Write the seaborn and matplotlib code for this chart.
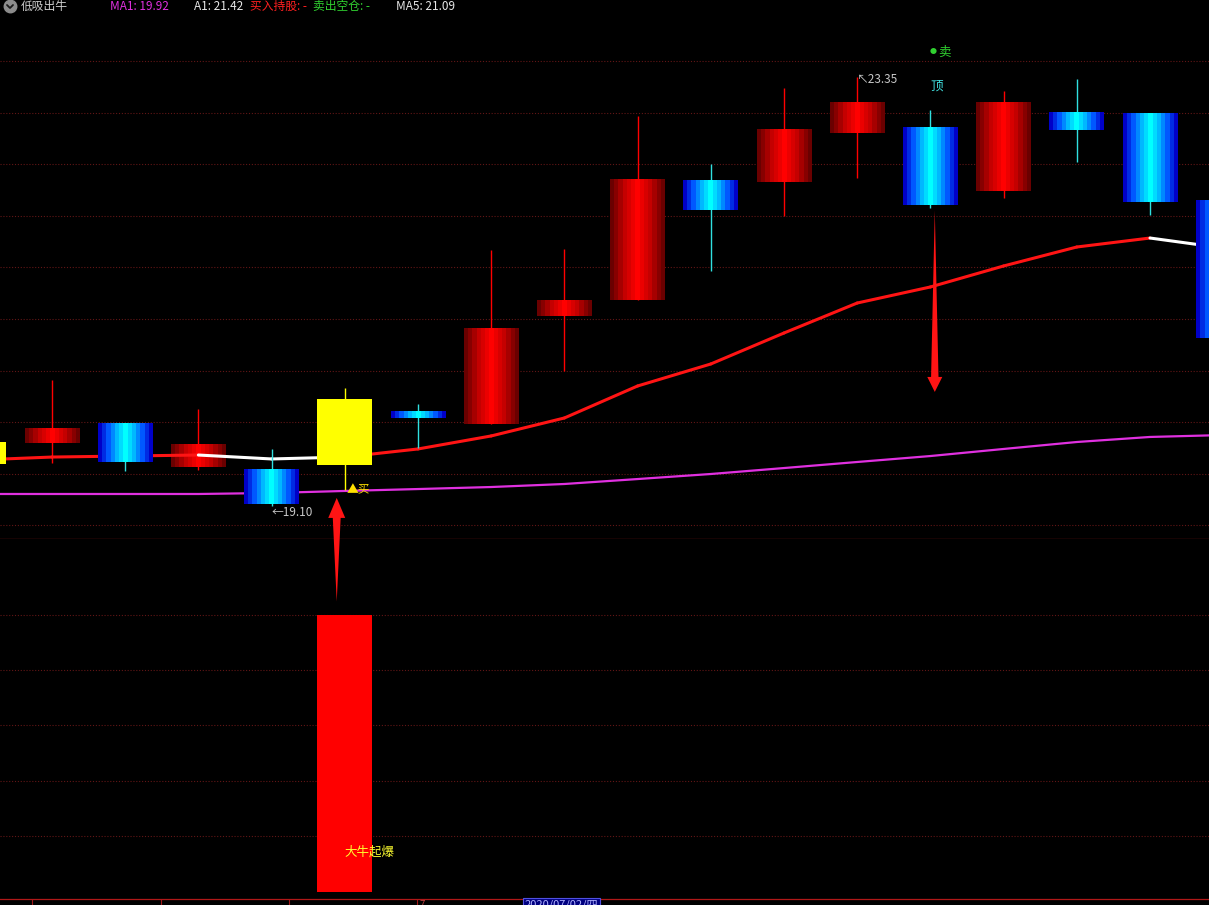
import numpy as np
import matplotlib
matplotlib.use("Agg")
import matplotlib.pyplot as plt
from matplotlib.colors import LinearSegmentedColormap
from matplotlib.lines import Line2D
import seaborn as sns

# 1. dados (um candle por posição)
candles = list(range(18))
abertura = [19.52, 19.72, 19.92, 19.49, 19.46, 19.51, 20.03, 19.91, 20.98, 21.14,
            22.32, 22.31, 22.80, 22.85, 22.22, 23.00, 22.99, 22.12]
fechamento = [19.73, 19.86, 19.54, 19.71, 19.12, 20.16, 19.97, 20.86, 21.13, 22.33,
              22.03, 22.83, 23.10, 22.08, 23.10, 22.83, 22.11, 20.76]
maxima = [19.73, 20.35, 19.92, 20.06, 19.66, 20.27, 20.11, 21.64, 21.65, 22.96,
          22.49, 23.24, 23.35, 23.02, 23.21, 23.33, 22.99, 22.12]
minima = [19.52, 19.53, 19.45, 19.46, 19.10, 19.26, 19.67, 19.91, 20.44, 21.14,
          21.43, 21.97, 22.35, 22.05, 22.15, 22.51, 21.98, 20.76]
barras_amarelas = [0, 5]

# média curta (vermelha quando sobe, branca quando cai) e média longa (magenta)
media_curta = [19.556, 19.585, 19.595, 19.605, 19.566, 19.585, 19.665, 19.794, 19.972,
               20.289, 20.507, 20.814, 21.111, 21.270, 21.478, 21.666, 21.755, 21.656]
media_curta_sobe = [1, 1, 1, 0, 0, 1, 1, 1, 1, 1, 1, 1, 1, 1, 1, 1, 0]
media_longa = [19.219, 19.219, 19.219, 19.219, 19.229, 19.249, 19.268, 19.288, 19.318,
               19.367, 19.417, 19.476, 19.536, 19.595, 19.665, 19.734, 19.784, 19.803]

# painel de baixo: sinal "大牛起爆"
sinal = [0, 0, 0, 0, 0, 100, 0, 0, 0, 0, 0, 0, 0, 0, 0, 0, 0, 0]
candle_compra = 5
candle_venda = 13

cabecalho = ["低吸出牛", "MA1: 19.92", "A1: 21.42", "买入持股: -", "卖出空仓: -", "MA5: 21.09"]
data_cursor = "2020/07/02/四"

# 2. configuração visual
sns.set_theme(style="dark", rc={"axes.facecolor": "black", "figure.facecolor": "black",
                                "savefig.facecolor": "black"})
plt.rcParams["font.family"] = ["Noto Sans CJK SC", "DejaVu Sans"]
plt.rcParams["font.size"] = 8.5

W, H = 1209, 905
fig = plt.figure(figsize=(W / 100, H / 100), dpi=100)
ax = fig.add_axes([0, (H - 538.7) / H, 1, (538.7 - 20) / H])
ax2 = fig.add_axes([0, (H - 898.5) / H, 1, (898.5 - 538.7) / H])

grade = dict(color="#621616", ls=(0, (1, 1.6)), lw=0.8)
vermelho = "#ff1414"

# 3. candles com faixas em degradê
meia = 0.375
cmap_verm = LinearSegmentedColormap.from_list("verm", ["#6a0000", "#c40000", "#ff0000"])
cmap_azul = LinearSegmentedColormap.from_list("azul", ["#0000c8", "#0058ff", "#00b8ff", "#00ffff"])
faixas = (1 - np.abs(np.linspace(-1, 1, 13)))[np.newaxis, :]

for i, o, c, h, l in zip(candles, abertura, fechamento, maxima, minima):
    lo, hi = min(o, c), max(o, c)
    if i in barras_amarelas:
        ax.vlines(i, l, h, color="#ffff00", lw=1, zorder=3.5)
        ax.bar(i, hi - lo, bottom=lo, width=2 * meia, color="#ffff00", lw=0, zorder=4)
    elif c >= o:
        ax.vlines(i, l, h, color="#ff0000", lw=1, zorder=1.5)
        ax.imshow(faixas, cmap=cmap_verm, extent=(i - meia, i + meia, lo, hi), aspect="auto",
                  interpolation="nearest", vmin=0, vmax=1, zorder=2)
    else:
        ax.vlines(i, l, h, color="#30e0e0", lw=1, zorder=3.5)
        ax.imshow(faixas, cmap=cmap_azul, extent=(i - meia, i + meia, lo, hi), aspect="auto",
                  interpolation="nearest", vmin=0, vmax=1, zorder=4)

# 4. médias
for k in range(len(candles) - 1):
    cor = vermelho if media_curta_sobe[k] else "#ffffff"
    ax.plot(candles[k:k + 2], media_curta[k:k + 2], color=cor, lw=2.2, zorder=3,
            solid_capstyle="round")
sns.lineplot(x=candles, y=media_longa, ax=ax, color="#e030e0", lw=1.6, zorder=3)

# 5. marcações de texto
cinza = "#c8c8c8"
ax.annotate("←19.10", xy=(4, minima[4]), xytext=(0, -4.5), textcoords="offset points",
            ha="left", va="center", color=cinza, fontsize=8.5, zorder=6)
ax.annotate("↖23.35", xy=(12, maxima[12]), xytext=(0, -2), textcoords="offset points",
            ha="left", va="center", color=cinza, fontsize=8.5, zorder=6)
ax.annotate("▲买", xy=(candle_compra, minima[candle_compra]), xytext=(1.5, 0),
            textcoords="offset points", ha="left", va="center", color="#ffe000",
            fontsize=8.5, zorder=6)
ax.annotate("●", xy=(candle_venda, maxima[candle_venda]), xytext=(2.2, 41.8),
            textcoords="offset points", ha="center", va="center", color="#30d030",
            fontsize=5, zorder=6)
ax.annotate("卖", xy=(candle_venda, maxima[candle_venda]), xytext=(5.8, 41.8),
            textcoords="offset points", ha="left", va="center", color="#30d030",
            fontsize=9, zorder=6)
ax.annotate("顶", xy=(candle_venda, maxima[candle_venda]), xytext=(4.3, 17.3),
            textcoords="offset points", ha="center", va="center", color="#40e0e0",
            fontsize=9, zorder=6)

# seta de venda (afina para cima, ponta para baixo)
xv = candle_venda + 0.06
seta = dict(color=vermelho, lw=0, shrinkA=0, shrinkB=0, mutation_scale=10)
ax.annotate("", xy=(xv, minima[candle_venda] - 0.02), xytext=(xv, 20.33),
            arrowprops=dict(arrowstyle="wedge,tail_width=0.55,shrink_factor=0.5", **seta),
            annotation_clip=False, zorder=6)
ax.annotate("", xy=(xv, 20.23), xytext=(xv, 20.38),
            arrowprops=dict(arrowstyle="-|>,head_length=1.08,head_width=0.54", **seta),
            annotation_clip=False, zorder=6)

# seta de compra (sai do painel de baixo e aponta para o candle amarelo)
xc = candle_compra - 0.11
ax2.annotate("", xy=(xc, 104.7), xytext=(xc, 19.03), textcoords=ax.transData,
             arrowprops=dict(arrowstyle="wedge,tail_width=0.6,shrink_factor=0.5", **seta),
             annotation_clip=False, zorder=6)
ax.annotate("", xy=(xc, 19.18), xytext=(xc, 18.96),
            arrowprops=dict(arrowstyle="-|>,head_length=1.44,head_width=0.61", **seta),
            annotation_clip=False, zorder=6)

# 6. eixos do painel principal
ax.set_xlim(0.29, 16.806)
ax.set_ylim(18.776, 23.915)
ax.set_yticks(np.linspace(18.908, 23.509, 10))
ax.set_axisbelow(True)
ax.grid(True, axis="y", **grade)
ax.grid(False, axis="x")
ax.tick_params(left=False, bottom=False, labelleft=False, labelbottom=False)
ax.set_xlabel("")
ax.set_ylabel("")
for s in ax.spines.values():
    s.set_visible(False)
ax.spines["bottom"].set_visible(True)
ax.spines["bottom"].set_color("#b01818")
ax.spines["bottom"].set_linewidth(0.9)

# 7. painel de baixo
ax2.bar(candles, sinal, width=2 * meia, color="#ff0000", lw=0, zorder=2)
ax2.text(candle_compra, 14.4, "大牛起爆", ha="left", va="center", color="#ffff30",
         fontsize=9, zorder=6)
ax2.set_xlim(0.29, 16.806)
ax2.set_ylim(-2.5, 127.4)
ax2.set_yticks([20, 40, 60, 80, 100])
ax2.set_xticks([0.727, 2.489, 4.238, 5.986])
ax2.set_axisbelow(True)
ax2.grid(True, axis="y", **grade)
ax2.grid(False, axis="x")
ax2.tick_params(axis="y", left=False, labelleft=False)
ax2.tick_params(axis="x", bottom=True, labelbottom=False, length=4, width=0.8,
                color="#a01818", direction="out")
for s in ax2.spines.values():
    s.set_visible(False)
ax2.spines["bottom"].set_visible(True)
ax2.spines["bottom"].set_color("#b01818")
ax2.spines["bottom"].set_linewidth(0.9)

# 8. cabeçalho e rodapé
fig.add_artist(Line2D([10 / W], [1 - 6.5 / H], marker="o", markersize=9, color="#8c8c8c",
                      transform=fig.transFigure))
fig.add_artist(Line2D([7 / W, 10 / W, 13 / W], [1 - 5 / H, 1 - 8 / H, 1 - 5 / H],
                      color="#1a1a1a", lw=1.3, transform=fig.transFigure))
cores_cab = ["#d0d0d0", "#e030e0", "#e8e8e8", "#ff2020", "#30d030", "#e8e8e8"]
pos_cab = [21, 110, 194, 250, 313, 396]
for txt, cor, x in zip(cabecalho, cores_cab, pos_cab):
    fig.text(x / W, 1 - 6.5 / H, txt, color=cor, fontsize=8.5, ha="left", va="center")

# rodapé: aparece cortado na borda, como na captura de tela original
fig.text(419 / W, 1 - 900 / H, "7", color="#c04040", fontsize=7, ha="left", va="top")
fig.text(525 / W, 1 - 899.5 / H, data_cursor, color="#b0b0ff", fontsize=8, ha="left",
         va="top", bbox=dict(boxstyle="square,pad=0.15", fc="#000080", ec="#5050e0", lw=0.8))

fig.savefig("out.png", dpi=100, facecolor="black")
